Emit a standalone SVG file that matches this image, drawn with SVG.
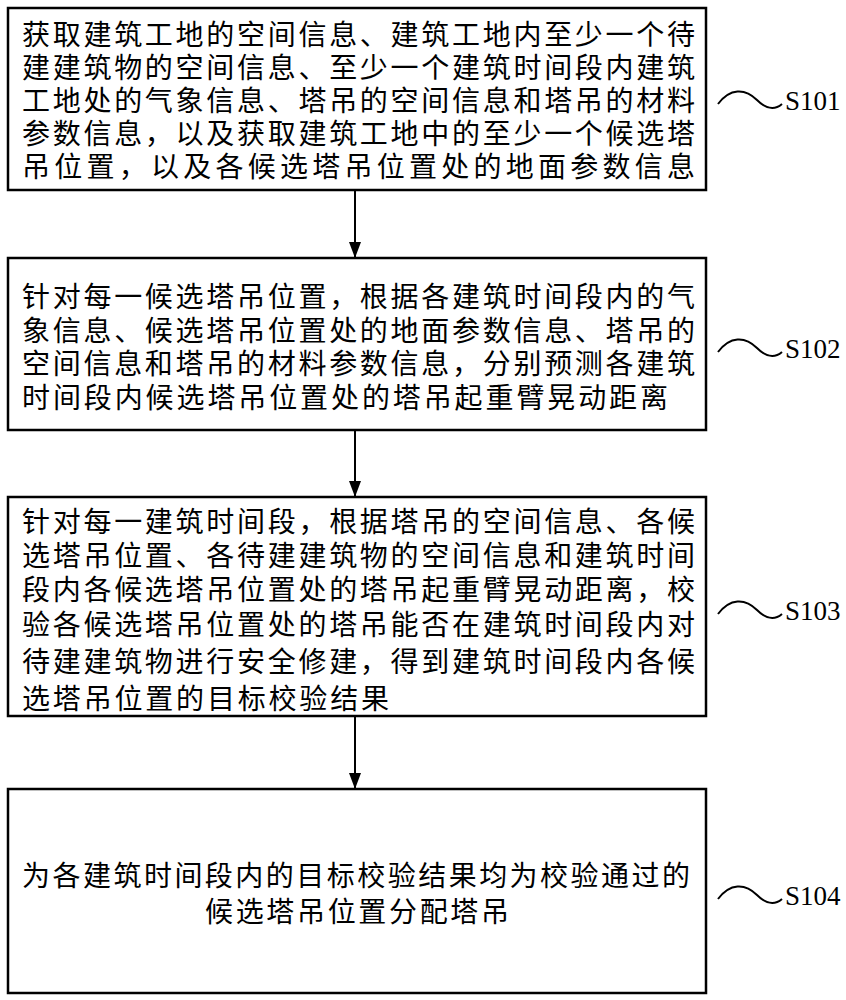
<svg xmlns="http://www.w3.org/2000/svg" width="846" height="1000" viewBox="0 0 846 1000">
<style>
.b{fill:#fff;stroke:#000;stroke-width:2.5}
.t{font-family:"Liberation Serif","Noto Sans CJK SC",serif;font-size:28px;fill:#000}
.l{font-family:"Liberation Serif","Noto Sans CJK SC",serif;font-size:27px;fill:#000}
.w{fill:none;stroke:#000;stroke-width:2}
.c{stroke:#000;stroke-width:2;fill:none}
</style>
<defs><marker id="a" markerWidth="16" markerHeight="12" refX="15" refY="6" orient="auto" markerUnits="userSpaceOnUse" viewBox="0 0 16 12"><path d="M0,0 L16,6 L0,12 Z" fill="#000"/></marker></defs>
<rect width="846" height="1000" fill="#fff"/>
<g id="n1">
<rect class="b" x="8" y="8" width="698" height="182"/>
<text class="t" x="22" y="45" textLength="673" lengthAdjust="spacing">获取建筑工地的空间信息、建筑工地内至少一个待</text>
<text class="t" x="22" y="78" textLength="673" lengthAdjust="spacing">建建筑物的空间信息、至少一个建筑时间段内建筑</text>
<text class="t" x="22" y="111" textLength="673" lengthAdjust="spacing">工地处的气象信息、塔吊的空间信息和塔吊的材料</text>
<text class="t" x="22" y="144" textLength="673" lengthAdjust="spacing">参数信息，以及获取建筑工地中的至少一个候选塔</text>
<text class="t" x="22" y="177" textLength="673" lengthAdjust="spacing">吊位置，以及各候选塔吊位置处的地面参数信息</text>
<path class="w" d="M718,104 C730,88 745,88 757,100 C767,110 775,110 782,104"/>
<text class="l" x="785" y="110">S101</text>
</g>
<g id="n2">
<rect class="b" x="8" y="258" width="698" height="172"/>
<text class="t" x="22" y="307" textLength="673" lengthAdjust="spacing">针对每一候选塔吊位置，根据各建筑时间段内的气</text>
<text class="t" x="22" y="341" textLength="673" lengthAdjust="spacing">象信息、候选塔吊位置处的地面参数信息、塔吊的</text>
<text class="t" x="22" y="374" textLength="673" lengthAdjust="spacing">空间信息和塔吊的材料参数信息，分别预测各建筑</text>
<text class="t" x="22" y="408" textLength="646" lengthAdjust="spacing">时间段内候选塔吊位置处的塔吊起重臂晃动距离</text>
<path class="w" d="M718,352 C730,336 745,336 757,348 C767,358 775,358 782,352"/>
<text class="l" x="785" y="358">S102</text>
</g>
<g id="n3">
<rect class="b" x="8" y="497" width="698" height="219"/>
<text class="t" x="22" y="532" textLength="673" lengthAdjust="spacing">针对每一建筑时间段，根据塔吊的空间信息、各候</text>
<text class="t" x="22" y="566" textLength="673" lengthAdjust="spacing">选塔吊位置、各待建建筑物的空间信息和建筑时间</text>
<text class="t" x="22" y="600" textLength="673" lengthAdjust="spacing">段内各候选塔吊位置处的塔吊起重臂晃动距离，校</text>
<text class="t" x="22" y="635" textLength="673" lengthAdjust="spacing">验各候选塔吊位置处的塔吊能否在建筑时间段内对</text>
<text class="t" x="22" y="672" textLength="673" lengthAdjust="spacing">待建建筑物进行安全修建，得到建筑时间段内各候</text>
<text class="t" x="22" y="709" textLength="367" lengthAdjust="spacing">选塔吊位置的目标校验结果</text>
<path class="w" d="M718,614 C730,598 745,598 757,610 C767,620 775,620 782,614"/>
<text class="l" x="785" y="620">S103</text>
</g>
<g id="n4">
<rect class="b" x="8" y="789" width="698" height="204"/>
<text class="t" x="22" y="886" textLength="668" lengthAdjust="spacing">为各建筑时间段内的目标校验结果均为校验通过的</text>
<text class="t" x="357" y="922" text-anchor="middle" textLength="304" lengthAdjust="spacing">候选塔吊位置分配塔吊</text>
<path class="w" d="M718,899 C730,883 745,883 757,895 C767,905 775,905 782,899"/>
<text class="l" x="785" y="905">S104</text>
</g>
<g id="connectors">
<line class="c" x1="355" y1="190" x2="355" y2="257" marker-end="url(#a)"/>
<line class="c" x1="355" y1="430" x2="355" y2="496" marker-end="url(#a)"/>
<line class="c" x1="355" y1="716" x2="355" y2="788" marker-end="url(#a)"/>
</g>
</svg>
